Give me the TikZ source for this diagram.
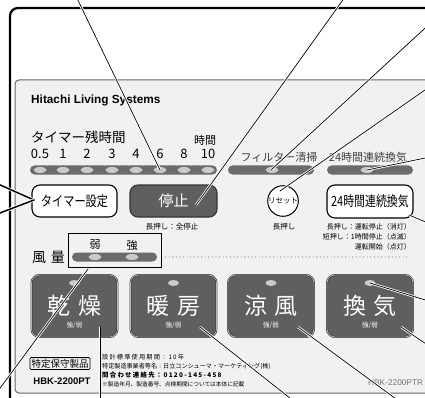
\documentclass[tikz,border=0pt]{standalone}
\usepackage{fontspec}
\setmainfont{Noto Sans CJK JP}
\newfontfamily\lsans{Liberation Sans}
\usetikzlibrary{shapes.geometric}
\definecolor{panelbg}{HTML}{F0F1F3}
\definecolor{bargray}{HTML}{6B6B6B}
\definecolor{ledgray}{HTML}{CACACA}
\definecolor{btngray}{HTML}{5F5F5F}
\newcommand\fsz[1]{\fontsize{#1}{#1}\selectfont}
\begin{document}
\begin{tikzpicture}[x=1pt,y=-1pt,
    lbl/.style={inner sep=0pt},
    bar/.style={fill=bargray,rounded corners=4.5pt,inner sep=0pt,minimum height=9pt},
    led/.style={ellipse,fill=ledgray,inner sep=0pt,minimum width=13pt,minimum height=6pt},
    wbtn/.style={draw,line width=1.1pt,fill=white,rounded corners=8pt,inner sep=0pt,minimum height=32pt},
    dbtn/.style={draw=black!80,double=gray!55,double distance=0.7pt,line width=0.6pt,fill=btngray,
        rounded corners=8pt,minimum width=86pt,minimum height=62pt},
    leader/.style={line width=0.7pt,line cap=round,preaction={draw=white,line width=2.4pt}}]
    \useasboundingbox (0,0) rectangle (425,398);
    \clip (0,0) rectangle (425,398);

    % case and panel
    \draw[line width=2.2pt,rounded corners=8pt] (10,8) rectangle (450,410);
    \draw[fill=panelbg,draw=black!60,line width=1pt,rounded corners=4pt] (15,80) rectangle (450,393);
    \node[lbl,anchor=west] (brand) at (31,100) {\lsans\bfseries\fsz{11.8}Hitachi Living Systems};

    % timer
    \node[lbl,anchor=west] (tmrlbl) at (31,137) {\fsz{13.5}タイマー残時間};
    \node[lbl] (hours) at (205,140) {\fsz{11}時間};
    \node[bar,minimum width=187pt] (tmrbar) at (123.5,170) {};
    \foreach \x/\t [count=\i] in {40/0.5,63/1,87/2,112/3,136/4,160/6,184/8,208/10} {
        \node[lbl] at (\x,154) {\fsz{13}\t};
        \node[led] (t\i) at (\x,170) {};
    }
    \node[wbtn,minimum width=85pt] (tmrbtn) at (74.5,201) {\fsz{14}\scalebox{0.8}[1]{タイマー設定}};
    \node[wbtn,minimum width=87pt,draw=black!80,fill=btngray,text=white] (stopbtn) at (173.5,201) {\fsz{15}停止};
    \node[lbl] (stopnote) at (172,227) {\fsz{7.5}長押し：全停止};

    % filter and 24h
    \node[lbl,text=black!75] (fltlbl) at (279,157) {\fsz{11}フィルター清掃};
    \node[bar,minimum width=86pt] (fltbar) at (271,170) {};
    \node[led] (fltled) at (272,170) {};
    \node[lbl,text=black!75] (h24lbl) at (368,157) {\fsz{11}24時間連続換気};
    \node[bar,minimum width=86pt] (h24bar) at (370,170) {};
    \node[led] (h24led) at (367,170) {};
    \node[circle,draw,line width=1pt,fill=white,minimum size=30pt,inner sep=0pt] (rstbtn) at (283,201) {\fsz{7.5}リセット};
    \node[lbl] (rstnote) at (284,227) {\fsz{7.5}長押し};
    \node[wbtn,minimum width=86pt,minimum height=33pt] (h24btn) at (370,201.5) {\fsz{14}\scalebox{0.78}[1]{24時間連続換気}};
    \node[lbl,anchor=north east,align=right,font={\fontsize{7}{10}\selectfont}] (h24note) at (411,223)
        {長押し：運転停止（消灯）\\短押し：1時間停止（点滅）\\運転開始（点灯）};

    % fan speed
    \node[lbl] (fanlbl) at (48.5,257) {\fsz{14}風\hspace{5pt}量};
    \node[draw,line width=1pt,inner sep=0pt,minimum width=93pt,minimum height=34pt] (fanbox) at (114.5,250) {};
    \node[lbl] at (95,245) {\fsz{11}弱};
    \node[lbl] at (132,245) {\fsz{11}強};
    \node[bar,minimum width=85pt] (fanbar) at (114.5,257) {};
    \node[led] (fan1) at (95,257) {};
    \node[led] (fan2) at (132,257) {};
    \draw[gray,line width=1.2pt,line cap=round,dash pattern=on 0pt off 3.6pt] (fanbox.east |- fanbar) ++(4,0) -- (410,257);

    % mode buttons
    \foreach \n/\x/\a/\b in {dry/74.5/乾/燥,heat/173.5/暖/房,cool/271/涼/風,vent/370/換/気} {
        \node[dbtn] (\n) at (\x,306) {};
        \node[led,minimum width=11pt,minimum height=6pt] (\n-led) at (\x,283) {};
        \node[lbl,text=white] at (\x,306) {\fsz{23}\a\hspace{8pt}\b};
        \node[lbl,text=white] at (\x,325) {\fsz{6.5}強/弱};
    }

    % label plate
    \node[draw,line width=0.8pt,rounded corners=1pt,inner sep=1.5pt] (plate) at (60,363.5) {\fsz{9.5}特定保守製品};
    \node[lbl] (model) at (62,381) {\lsans\bfseries\fsz{9.5}HBK-2200PT};
    \node[lbl,anchor=west] at (102,357.5) {\fsz{6.2}\addfontfeatures{LetterSpace=19}設計標準使用期間：10年};
    \node[lbl,anchor=west] at (102,366.5) {\fsz{6.1}特定製造事業者等名：日立コンシューマ・マーケティング(株)};
    \node[lbl,anchor=west] at (102,375) {\bfseries\fsz{6.4}\addfontfeatures{LetterSpace=20}問合わせ連絡先：0120-145-458};
    \node[lbl,anchor=west] at (102,384) {\fsz{5.7}※製造年月、製造番号、点検期間については本体に記載};
    \node[lbl,anchor=west,text=black!55] (model2) at (368,383) {\lsans\fsz{8.3}HBK-2200PTR};

    % leader lines
    \coordinate (e1) at (73,-10);     \coordinate (p1) at (160,170);
    \coordinate (e2) at (350,-10);    \coordinate (p2) at (196,205);
    \coordinate (e3) at (435,19);     \coordinate (p3) at (271,170);
    \coordinate (e4) at (435,83);     \coordinate (p4) at (280,191);
    \coordinate (e5) at (435,156);    \coordinate (p5) at (367,170);
    \coordinate (e6) at (435,226);    \coordinate (p6) at (409,215);
    \coordinate (e7) at (435,303);    \coordinate (p7) at (370,283);
    \coordinate (e8) at (435,350);    \coordinate (p8) at (401,327);
    \coordinate (e9) at (411,410);    \coordinate (p9) at (298,327);
    \coordinate (e10) at (305,410);   \coordinate (p10) at (200,327);
    \coordinate (e11) at (100,410);   \coordinate (p11) at (100,327);
    \coordinate (e12) at (-16,410);   \coordinate (p12) at (88,269);
    \foreach \from/\to in {e1/p1,e2/p2,e3/p3,e4/p4,e5/p5,e6/p6,e7/p7,e8/p8,e9/p9,e10/p10,e11/p11,e12/p12}
        \draw[leader] (\from) -- (\to);

    \coordinate (e13) at (-10,180.5);
    \coordinate (e14) at (-10,216.8);
    \coordinate (p13) at (34,200);
    \foreach \from in {e13,e14}
        \draw[leader,line width=1.5pt,preaction={draw=white,line width=3pt}] (\from) -- (p13);
\end{tikzpicture}
\end{document}
